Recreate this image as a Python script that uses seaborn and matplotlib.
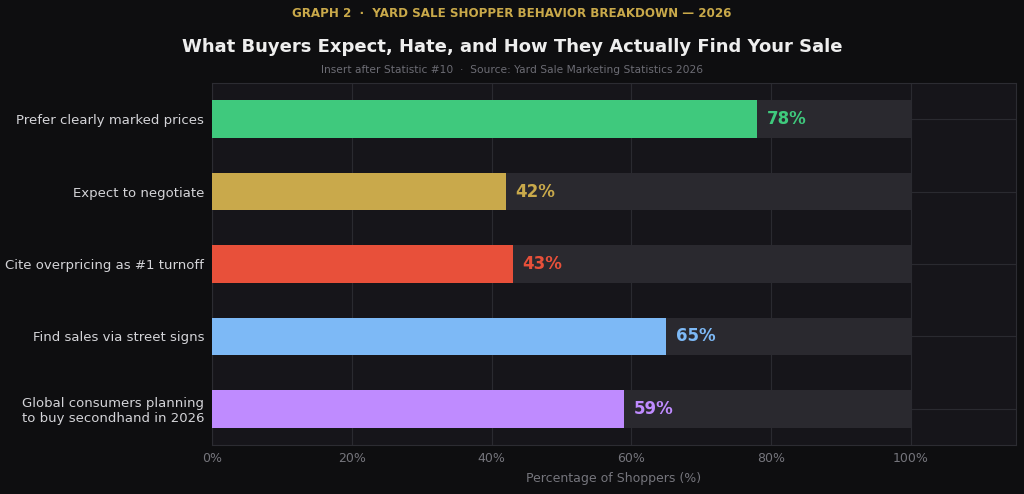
import pandas as pd
import matplotlib.pyplot as plt
import seaborn as sns

# Chart data
categories = ["Prefer clearly marked prices", "Expect to negotiate", "Cite overpricing as #1 turnoff",
              "Find sales via street signs", "Global consumers planning\nto buy secondhand in 2026"]
values = [78, 42, 43, 65, 59]
bar_colors = ["#3fc97d", "#c9a94b", "#e8503a", "#7db9f6", "#bf8bff"]
tick_values = [0, 20, 40, 60, 80, 100]
tick_labels = ["0%", "20%", "40%", "60%", "80%", "100%"]

df = pd.DataFrame({"category": categories, "value": values, "full": [100] * len(values)})

sns.set_theme(style="dark")
plt.rcParams['font.family'] = ['DejaVu Sans']

fig = plt.figure(figsize=(10.24, 4.94), dpi=100, facecolor="#0e0e10")
ax = fig.add_axes([0.207, 0.099, 0.785, 0.733])
ax.set_facecolor("#16151a")

# grey track bars behind the values
sns.barplot(data=df, x="full", y="category", color="#2a292f", width=0.52,
            saturation=1, linewidth=0, ax=ax, zorder=2)
sns.barplot(data=df, x="value", y="category", hue="category", palette=bar_colors,
            width=0.52, saturation=1, linewidth=0, legend=False, ax=ax, zorder=3)

# value labels
for i, v in enumerate(values):
    ax.text(v + 1.4, i, f"{v}%", va="center", ha="left", fontsize=12,
            fontweight="bold", color=bar_colors[i], zorder=4)

ax.set_xlim(0, 115)
ax.set_ylim(4.5, -0.5)
ax.set_xticks(tick_values)
ax.set_xticklabels(tick_labels)
ax.grid(True, color="#2a2a30", linewidth=0.8, zorder=0)
ax.set_axisbelow(True)
for s in ax.spines.values():
    s.set_color("#2c2c32")
    s.set_linewidth(0.8)

ax.tick_params(axis="x", colors="#55555c", labelcolor="#75757c", labelsize=9, length=3, width=0.8, pad=2)
ax.tick_params(axis="y", colors="#55555c", labelcolor="#d4d4d8", labelsize=9.5, length=3, width=0.8, pad=2.5)
ax.set_ylabel("")
ax.set_xlabel("Percentage of Shoppers (%)", color="#75757c", fontsize=9, labelpad=5)

# titles
fig.text(0.5, 0.972, "GRAPH 2  ·  YARD SALE SHOPPER BEHAVIOR BREAKDOWN — 2026", ha="center",
         va="center", color="#c9a94a", fontsize=8.6, fontweight="bold")
fig.text(0.5, 0.905, "What Buyers Expect, Hate, and How They Actually Find Your Sale", ha="center",
         va="center", color="#eeeeee", fontsize=13, fontweight="bold")
fig.text(0.5, 0.858, "Insert after Statistic #10  ·  Source: Yard Sale Marketing Statistics 2026",
         ha="center", va="center", color="#6c6c74", fontsize=7.7)

plt.savefig("out.png", dpi=100, facecolor=fig.get_facecolor())
